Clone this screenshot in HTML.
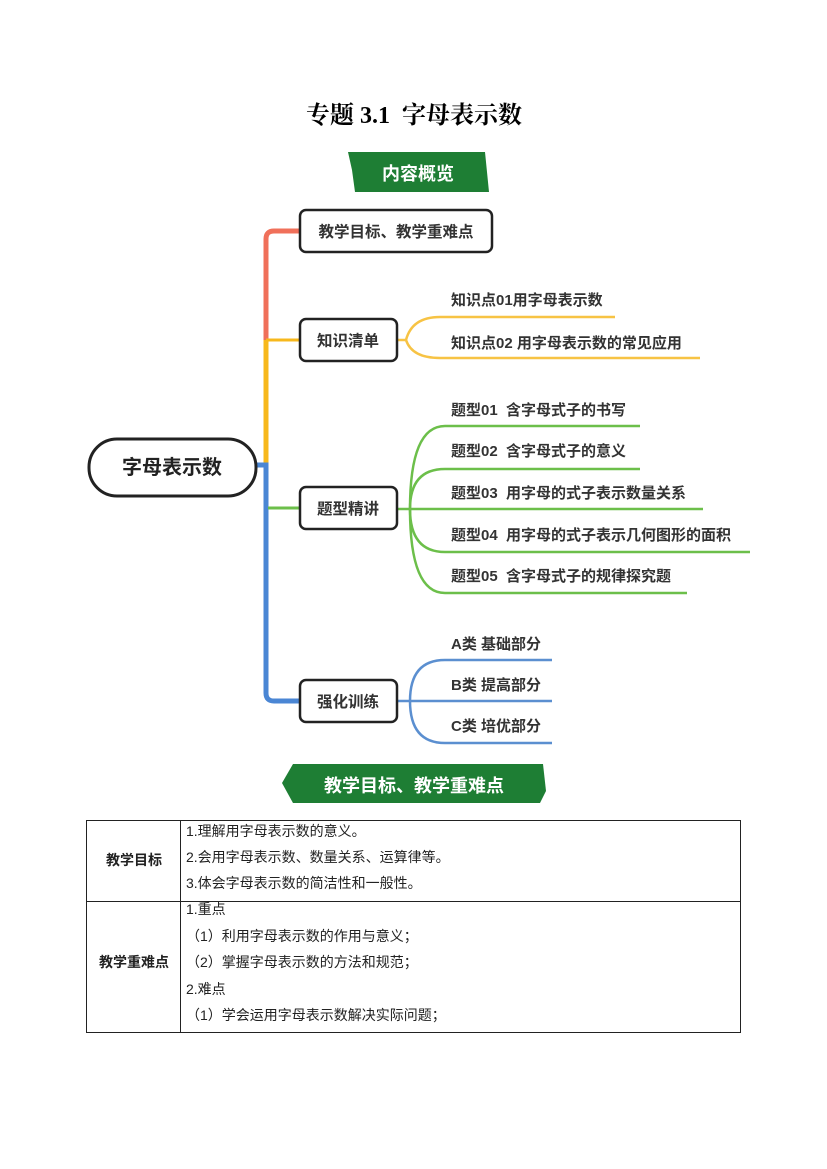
<!DOCTYPE html>
<html><head><meta charset="utf-8"><style>
body{margin:0;background:#fff;}
svg{display:block}
text{font-family:"Liberation Sans","Noto Sans CJK SC",sans-serif;white-space:pre;}
</style></head><body>
<svg width="827" height="1169" viewBox="0 0 827 1169" xmlns="http://www.w3.org/2000/svg" xml:space="preserve">
<text x="414" y="123" text-anchor="middle" font-size="24" font-weight="bold" style="font-family:'Liberation Serif','Noto Serif CJK SC',serif">专题 3.1  字母表示数</text>
<polygon points="348,152 485,152 489,192 355,192 352,170" fill="#1e7e34"/>
<text x="418" y="180" text-anchor="middle" font-size="18" font-weight="bold" fill="#fff">内容概览</text>

<path d="M300,231 L274,231 Q266,231 266,239 L266,340" stroke="#f0705a" stroke-width="5" fill="none"/>
<path d="M266,340 L266,465" stroke="#f7b81c" stroke-width="5" fill="none"/>
<path d="M266,340 L300,340" stroke="#f7b81c" stroke-width="3" fill="none"/>
<path d="M256,465 L266,465 L266,693 Q266,701 274,701 L300,701" stroke="#4a86d4" stroke-width="5" fill="none"/>
<path d="M268,508 L300,508" stroke="#6cbf4a" stroke-width="3" fill="none"/>

<g stroke="#f7c344" stroke-width="2.5" fill="none">
<path d="M397,340 L406,340 Q412,317 440,317 L615,317"/>
<path d="M406,340 Q412,358 440,358 L700,358"/>
</g>
<g stroke="#6cbf4a" stroke-width="2.5" fill="none">
<path d="M397,509 L410,509 Q410,426 445,426 L640,426"/>
<path d="M410,509 Q410,469 445,469 L640,469"/>
<path d="M410,509 L703,509"/>
<path d="M410,509 Q410,552 445,552 L750,552"/>
<path d="M410,509 Q410,593 445,593 L687,593"/>
</g>
<g stroke="#5b8fd0" stroke-width="2.5" fill="none">
<path d="M397,701 L410,701 Q410,660 445,660 L552,660"/>
<path d="M410,701 L552,701"/>
<path d="M410,701 Q410,743 445,743 L552,743"/>
</g>

<rect x="89" y="439" width="167" height="57" rx="28" fill="#fff" stroke="#222" stroke-width="3"/>
<text x="172" y="474" text-anchor="middle" font-size="20" font-weight="bold" fill="#222">字母表示数</text>

<g fill="#fff" stroke="#222" stroke-width="2.5">
<rect x="300" y="210" width="192" height="42" rx="6"/>
<rect x="300" y="319" width="97" height="42" rx="6"/>
<rect x="300" y="487" width="97" height="42" rx="6"/>
<rect x="300" y="680" width="97" height="42" rx="6"/>
</g>
<g font-size="15.5" font-weight="bold" fill="#333" text-anchor="middle">
<text x="396" y="237">教学目标、教学重难点</text>
<text x="348" y="346">知识清单</text>
<text x="348" y="514">题型精讲</text>
<text x="348" y="707">强化训练</text>
</g>
<g font-size="15" font-weight="bold" fill="#333">
<text x="451" y="305">知识点01用字母表示数</text>
<text x="451" y="348">知识点02 用字母表示数的常见应用</text>
<text x="451" y="415">题型01  含字母式子的书写</text>
<text x="451" y="456">题型02  含字母式子的意义</text>
<text x="451" y="498">题型03  用字母的式子表示数量关系</text>
<text x="451" y="540">题型04  用字母的式子表示几何图形的面积</text>
<text x="451" y="581">题型05  含字母式子的规律探究题</text>
<text x="451" y="649">A类 基础部分</text>
<text x="451" y="690">B类 提高部分</text>
<text x="451" y="731">C类 培优部分</text>
</g>

<polygon points="282,783 293,764 543,764 546,791 540,803 293,803" fill="#1e7e34"/>
<text x="414" y="792" text-anchor="middle" font-size="18" font-weight="bold" fill="#fff">教学目标、教学重难点</text>

<g stroke="#222" stroke-width="1" fill="none">
<rect x="86.5" y="820.5" width="654" height="212"/>
<line x1="180.5" y1="820" x2="180.5" y2="1033"/>
<line x1="86" y1="901.5" x2="741" y2="901.5"/>
</g>
<g font-size="14" fill="#222">
<text x="134" y="865" text-anchor="middle" font-weight="bold">教学目标</text>
<text x="134" y="967" text-anchor="middle" font-weight="bold">教学重难点</text>
<text x="186" y="836">1.理解用字母表示数的意义。</text>
<text x="186" y="862">2.会用字母表示数、数量关系、运算律等。</text>
<text x="186" y="888">3.体会字母表示数的简洁性和一般性。</text>
<text x="186" y="914">1.重点</text>
<text x="186" y="941">（1）利用字母表示数的作用与意义；</text>
<text x="186" y="967">（2）掌握字母表示数的方法和规范；</text>
<text x="186" y="994">2.难点</text>
<text x="186" y="1020">（1）学会运用字母表示数解决实际问题；</text>
</g>
</svg>
</body></html>
